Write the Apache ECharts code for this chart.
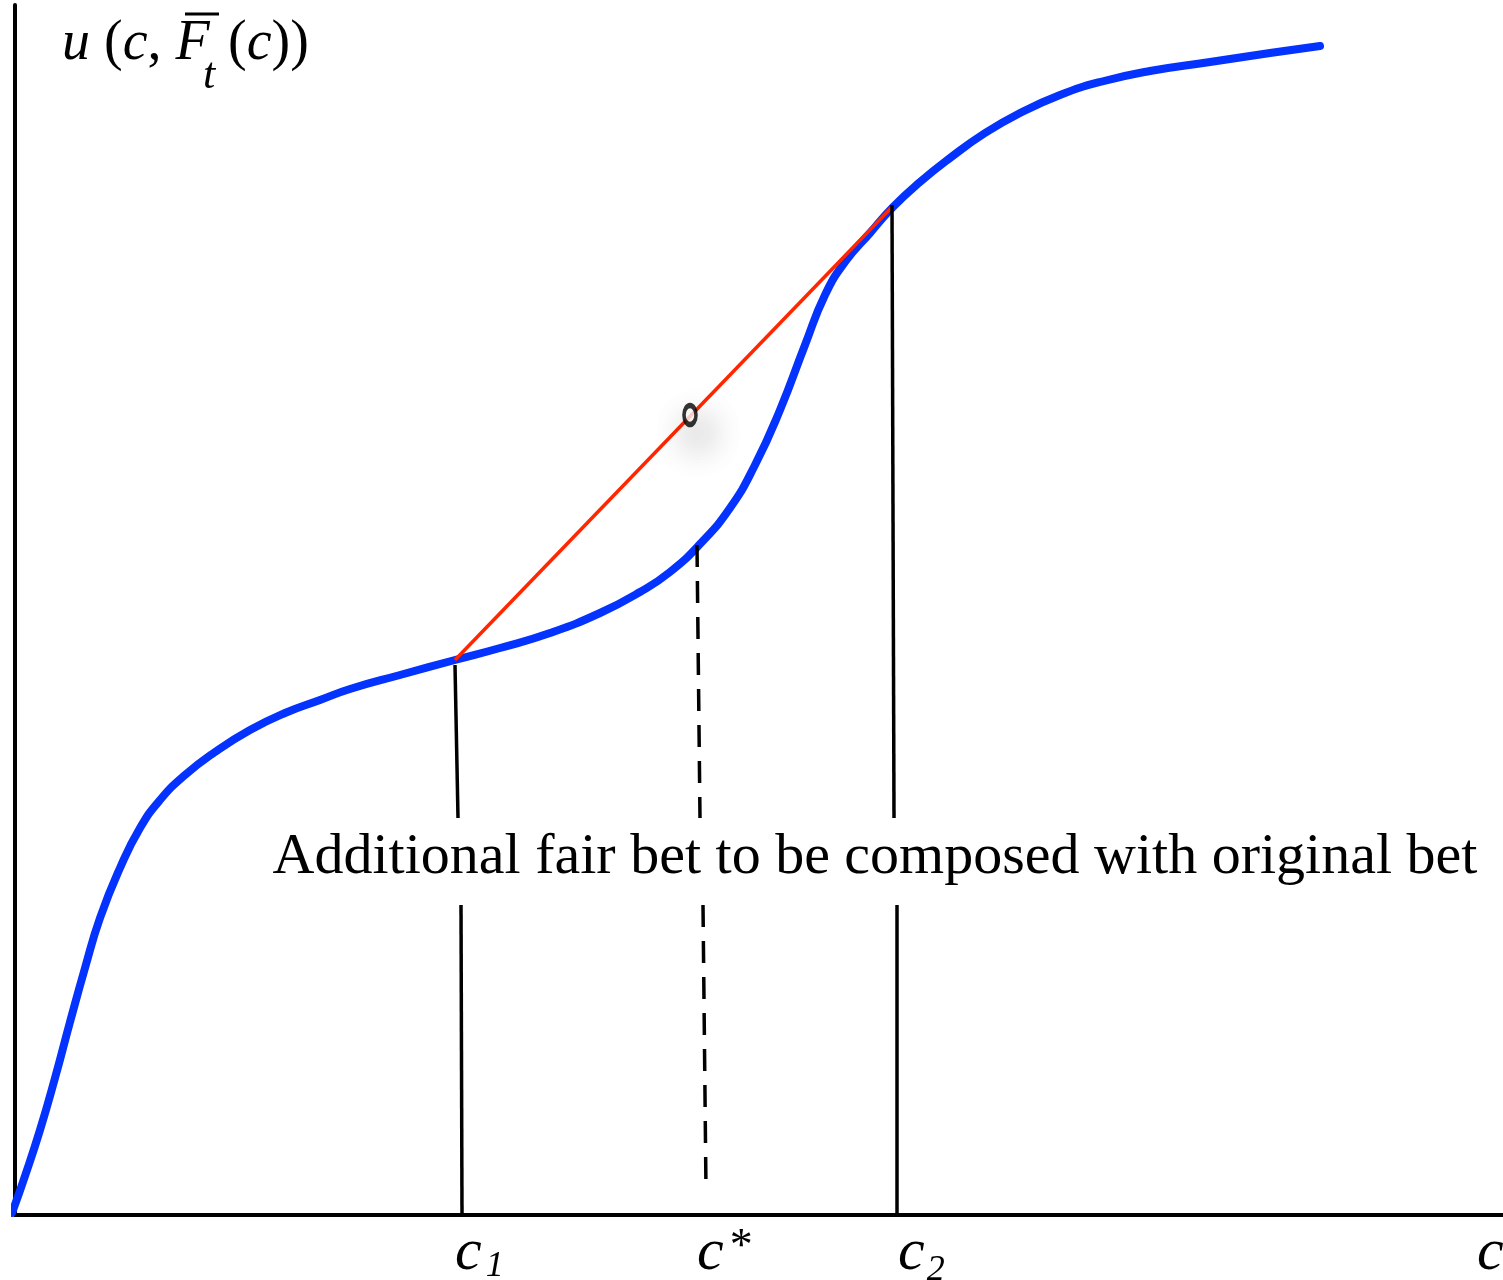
<!DOCTYPE html>
<html><head><meta charset="utf-8">
<script src="https://cdn.jsdelivr.net/npm/echarts@6/dist/echarts.min.js"></script>
<style>html,body{margin:0;padding:0;background:#fff}#c{width:1503px;height:1280px}</style>
</head><body><div id="c"></div>
<script>
// Utility curve u(c, F_t(c)) (x: c, y: utility), arbitrary units
const curveX = [-3, 10, 25, 40, 55, 70, 85, 105, 125, 145, 170, 200, 235, 270, 305, 335, 385, 440, 485, 535, 585, 625, 655, 685, 715, 740, 765, 790, 810, 830, 855, 878, 905, 935, 970, 1005, 1045, 1085, 1135, 1195, 1255, 1305];
const curveY = [2, 39, 85, 137, 193, 247, 297, 347, 387, 415, 440, 463, 485, 502, 515, 526, 540, 555, 567, 582, 602, 623, 643, 671, 707, 750, 805, 870, 920, 953, 982, 1008, 1033, 1057, 1082, 1102, 1120, 1133, 1144, 1153, 1162, 1169];
// Chord between c1 and c2 (fair bet)
const chordX = [440, 877];
const chordY = [555, 1008];
// Mid point marker on chord
const midX = [675];
const midY = [800];
// Vertical guide lines (upper and lower parts, interrupted by the note)
const c1UpperX = [440, 443], c1UpperY = [550, 397];
const c1LowerX = [446, 447], c1LowerY = [310, 0];
const cStarUpperX = [682, 685], cStarUpperY = [670, 397];
const cStarLowerX = [688, 691], cStarLowerY = [310, 25];
const c2UpperX = [877, 879], c2UpperY = [1010, 397];
const c2LowerX = [882, 882], c2LowerY = [310, 0];
// Axis tick labels (positions along c)
const tickPos = [440, 682, 883, 1462];
const tickLabels = ['{c|c}{s1|1}', '{c|c}{st|*}', '{c|c}{s2|2}', '{c|c}'];
const noteText = 'Additional fair bet to be composed with original bet';

const zip = (xs, ys) => xs.map((x, i) => [x, ys[i]]);
const serif = 'Liberation Serif, Times New Roman, serif';

const chart = echarts.init(document.getElementById('c'), null, {renderer: 'canvas'});
const blackLine = (xs, ys, dashed) => ({
  type: 'line', data: zip(xs, ys), symbol: 'none', silent: true, clip: false, z: 4,
  lineStyle: {color: '#000', width: 3.5, type: dashed ? [22, 14] : 'solid'}
});
chart.setOption({
  animation: false,
  backgroundColor: '#fff',
  grid: {left: 15, right: 0, top: 5, bottom: 65, outerBoundsMode: 'none', containLabel: false},
  xAxis: {
    type: 'value', min: 0, max: 1488,
    splitLine: {show: false},
    axisLine: {show: true, lineStyle: {color: '#000', width: 4}},
    axisTick: {show: false},
    axisLabel: {
      show: true, customValues: tickPos, align: 'left', margin: 8, hideOverlap: false,
      formatter: (v) => tickLabels[tickPos.indexOf(v)] || '',
      rich: {
        c: {fontFamily: serif, fontStyle: 'italic', fontSize: 60, color: '#000', lineHeight: 60, verticalAlign: 'top'},
        s1: {fontFamily: serif, fontStyle: 'italic', fontSize: 36, color: '#000', lineHeight: 36, padding: [26, 0, 0, 4], verticalAlign: 'top'},
        s2: {fontFamily: serif, fontStyle: 'italic', fontSize: 36, color: '#000', lineHeight: 36, padding: [30, 0, 0, 2], verticalAlign: 'top'},
        st: {fontFamily: serif, fontSize: 46, color: '#000', lineHeight: 46, padding: [2, 0, 0, 6], verticalAlign: 'top'}
      }
    }
  },
  yAxis: {
    type: 'value', min: 0, max: 1210,
    splitLine: {show: false},
    axisLine: {show: true, lineStyle: {color: '#000', width: 4}},
    axisTick: {show: false},
    axisLabel: {show: false}
  },
  series: [
    {type: 'line', data: zip(curveX, curveY), smooth: true, symbol: 'none', clip: false, z: 2,
     lineStyle: {color: '#0432ff', width: 8, cap: 'round', join: 'round'}},
    {type: 'line', data: zip(chordX, chordY), symbol: 'none', clip: false, z: 3,
     lineStyle: {color: '#ff2600', width: 3.5}},
    blackLine(c1UpperX, c1UpperY), blackLine(c1LowerX, c1LowerY),
    blackLine(cStarUpperX, cStarUpperY, true), blackLine(cStarLowerX, cStarLowerY, true),
    blackLine(c2UpperX, c2UpperY), blackLine(c2LowerX, c2LowerY),
    {type: 'scatter', data: zip(midX, midY), symbol: 'circle', symbolSize: [12, 19], z: 5,
     itemStyle: {color: '#fff', borderColor: '#000', borderWidth: 4.5, shadowBlur: 36,
       shadowColor: 'rgba(0,0,0,0.6)', shadowOffsetX: 8, shadowOffsetY: 18}}
  ],
  graphic: [
    {type: 'text', position: [875, 858], style: {
      text: noteText, font: '58px ' + serif, fill: '#000', align: 'center', verticalAlign: 'middle'}},
    {type: 'text', position: [62, 72], style: {
      text: '{i|u} ({i|c}, {i|F}', rich: {i: {font: 'italic 56px ' + serif}},
      font: '56px ' + serif, fill: '#000', verticalAlign: 'bottom'}},
    {type: 'text', position: [203, 98], style: {text: 't', font: 'italic 44px ' + serif, fill: '#000', verticalAlign: 'bottom'}},
    {type: 'text', position: [228, 72], style: {
      text: '({i|c}))', rich: {i: {font: 'italic 56px ' + serif}},
      font: '56px ' + serif, fill: '#000', verticalAlign: 'bottom'}},
    {type: 'line', shape: {x1: 185, y1: 14, x2: 219, y2: 14}, style: {stroke: '#000', lineWidth: 3}}
  ]
});
</script></body></html>
